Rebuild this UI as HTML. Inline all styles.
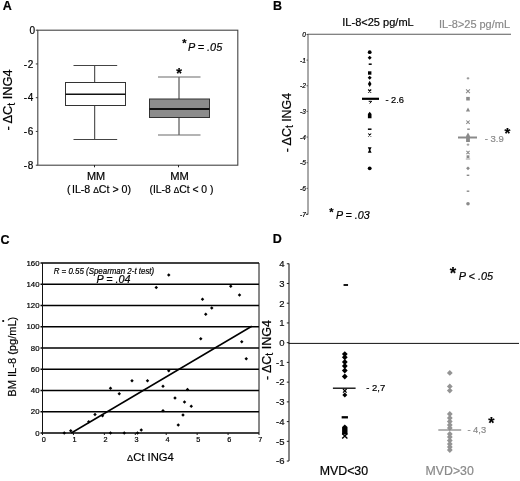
<!DOCTYPE html>
<html><head><meta charset="utf-8"><title>Figure</title>
<style>
html,body{margin:0;padding:0;background:#fff;}
svg{display:block;font-family:"Liberation Sans",sans-serif;}
text{stroke:#000;stroke-width:.2px}
text[fill="#8a8a8a"]{stroke:#8a8a8a}
</style></head><body>
<svg width="520" height="481" viewBox="0 0 520 481">
<rect width="520" height="481" fill="#fff"/>
<g id="pA">
<text x="2.8" y="9.9" font-size="12.5" font-weight="bold" stroke="#000" stroke-width="0.3">A</text>
<rect x="37.8" y="30.2" width="200" height="135" fill="none" stroke="#444" stroke-width="1.1"/>
<path d="M35.8 30.2H37.8" stroke="#333" stroke-width="1"/>
<text x="35" y="33.8" font-size="10" text-anchor="end">0</text>
<path d="M35.8 63.95H37.8" stroke="#333" stroke-width="1"/>
<text x="34.2" y="67.55" font-size="10" text-anchor="end" letter-spacing="0.8">-2</text>
<path d="M35.8 97.7H37.8" stroke="#333" stroke-width="1"/>
<text x="34.2" y="101.3" font-size="10" text-anchor="end" letter-spacing="0.8">-4</text>
<path d="M35.8 131.45H37.8" stroke="#333" stroke-width="1"/>
<text x="34.2" y="135.04999999999998" font-size="10" text-anchor="end" letter-spacing="0.8">-6</text>
<path d="M35.8 165.2H37.8" stroke="#333" stroke-width="1"/>
<text x="34.2" y="168.79999999999998" font-size="10" text-anchor="end" letter-spacing="0.8">-8</text>
<path d="M94.5 165V167.3M178.5 165V167.3" stroke="#222" stroke-width="1"/>
<path d="M94.7 65.5V82.5M94.7 105.5V139.5" stroke="#333" stroke-width="1" fill="none"/>
<path d="M73.5 65.5H117.2M73.5 139.5H117.2" stroke="#444" stroke-width="1" fill="none"/>
<rect x="65.5" y="82.5" width="60" height="23" fill="#fff" stroke="#333" stroke-width="1"/>
<path d="M65.5 94.3H125.5" stroke="#111" stroke-width="1.5"/>
<path d="M179 77V99M179 117.5V135" stroke="#333" stroke-width="1" fill="none"/>
<path d="M158 77H200.5M158 135H200.5" stroke="#6a6a6a" stroke-width="1.1" fill="none"/>
<rect x="149.5" y="99" width="60" height="18.5" fill="#8c8c8c" stroke="#333" stroke-width="1"/>
<path d="M149.5 109H209.5" stroke="#111" stroke-width="1.8"/>
<text x="179" y="77.6" font-size="14.5" text-anchor="middle" font-weight="bold">*</text>
<text x="184.4" y="46.9" font-size="11" text-anchor="middle" font-weight="bold">*</text>
<text x="187.9" y="50.6" font-size="11" font-style="italic" textLength="34.3" lengthAdjust="spacingAndGlyphs">P = .05</text>
<text x="87" y="179.8" font-size="10.8" textLength="18.2" lengthAdjust="spacingAndGlyphs">MM</text>
<text x="67.1" y="192.7" font-size="10.8" textLength="64" lengthAdjust="spacingAndGlyphs">(<tspan dx="1.3">IL-8</tspan> <tspan font-size="8.5">Δ</tspan>Ct &gt; 0)</text>
<text x="170.3" y="179.8" font-size="10.8" textLength="18.6" lengthAdjust="spacingAndGlyphs">MM</text>
<text x="149.5" y="192.7" font-size="10.8" textLength="64" lengthAdjust="spacingAndGlyphs">(IL-8 <tspan font-size="8.5">Δ</tspan>Ct &lt; 0 )</text>
<text transform="translate(12.4,130.5) rotate(-90)" font-size="12.3" textLength="61" lengthAdjust="spacingAndGlyphs">- ΔC<tspan font-size="10" dy="2.5">t</tspan><tspan dy="-2.5"> ING4</tspan></text>
</g>
<g id="pB">
<text x="273" y="9.7" font-size="12.5" font-weight="bold" stroke="#000" stroke-width="0.3">B</text>
<text x="342.3" y="26.4" font-size="11" textLength="71.4" lengthAdjust="spacingAndGlyphs">IL-8&lt;25 pg/mL</text>
<text x="439" y="27.9" font-size="11" fill="#8a8a8a" textLength="71" lengthAdjust="spacingAndGlyphs">IL-8&gt;25 pg/mL</text>
<path d="M307.5 34.2H511" stroke="#5a5a5a" stroke-width="1.1"/>
<path d="M308 34V214.5H306" stroke="#555" stroke-width="1" fill="none"/>
<path d="M306.5 34.50H308" stroke="#444" stroke-width="0.8"/>
<text x="305.8" y="37.20" font-size="6.5" text-anchor="end" fill="#000" font-style="italic" stroke-width="0.3">0</text>
<path d="M306.5 60.14H308" stroke="#444" stroke-width="0.8"/>
<text x="305.8" y="62.84" font-size="6.5" text-anchor="end" fill="#000" font-style="italic" stroke-width="0.3">-1</text>
<path d="M306.5 85.78H308" stroke="#444" stroke-width="0.8"/>
<text x="305.8" y="88.48" font-size="6.5" text-anchor="end" fill="#000" font-style="italic" stroke-width="0.3">-2</text>
<path d="M306.5 111.42H308" stroke="#444" stroke-width="0.8"/>
<text x="305.8" y="114.12" font-size="6.5" text-anchor="end" fill="#000" font-style="italic" stroke-width="0.3">-3</text>
<path d="M306.5 137.06H308" stroke="#444" stroke-width="0.8"/>
<text x="305.8" y="139.76" font-size="6.5" text-anchor="end" fill="#000" font-style="italic" stroke-width="0.3">-4</text>
<path d="M306.5 162.70H308" stroke="#444" stroke-width="0.8"/>
<text x="305.8" y="165.40" font-size="6.5" text-anchor="end" fill="#000" font-style="italic" stroke-width="0.3">-5</text>
<path d="M306.5 188.34H308" stroke="#444" stroke-width="0.8"/>
<text x="305.8" y="191.04" font-size="6.5" text-anchor="end" fill="#000" font-style="italic" stroke-width="0.3">-6</text>
<path d="M306.5 213.98H308" stroke="#444" stroke-width="0.8"/>
<text x="305.8" y="216.68" font-size="6.5" text-anchor="end" fill="#000" font-style="italic" stroke-width="0.3">-7</text>
<circle cx="369.70" cy="52.20" r="1.9" fill="#000"/>
<path d="M369.70 55.70L371.70 57.70L369.70 59.70L367.70 57.70Z" fill="#000"/>
<rect x="368.70" y="63.45" width="3" height="1.5" fill="#000"/>
<rect x="368.00" y="71.30" width="3.4" height="3.4" fill="#000"/>
<path d="M369.70 75.70L371.70 77.70L369.70 79.70L367.70 77.70Z" fill="#000"/>
<path d="M369.7 80.8L371.5 84L369.7 87L367.9 84Z" fill="#000"/>
<path d="M368.20 89.50L371.20 92.50M371.20 89.50L368.20 92.50" stroke="#000" stroke-width="1.15" fill="none"/>
<path d="M362 98.8H379" stroke="#000" stroke-width="2.2"/>
<path d="M368.7 101.3H371.7L369.7 103.5" stroke="#000" stroke-width="1" fill="none"/>
<path d="M369.7 111.8L371.5 114V118.3H367.9V114Z" fill="#000"/>
<rect x="367.90" y="128.45" width="3.6" height="1.5" fill="#000"/>
<path d="M368.20 133.50L371.20 136.50M371.20 133.50L368.20 136.50" stroke="#000" stroke-width="1.05" fill="none"/>
<path d="M367.8 147.2H371.59999999999997L370.3 150L371.59999999999997 152.8H367.8L369.09999999999997 150Z" fill="#000"/>
<circle cx="369.70" cy="168.30" r="1.9" fill="#000"/>
<text x="385.4" y="103.2" font-size="9.3" textLength="18.6" lengthAdjust="spacingAndGlyphs">- 2.6</text>
<path d="M466.70 78.30H469.30M468.00 77.00V79.60" stroke="#8a8a8a" stroke-width="0.9" fill="none"/>
<path d="M466.10 89.30L469.90 93.10M469.90 89.30L466.10 93.10" stroke="#8a8a8a" stroke-width="1.05" fill="none"/>
<rect x="466.20" y="96.90" width="3.6" height="3.6" fill="#8a8a8a"/>
<path d="M468.00 107.60L470.10 111.38L465.90 111.38Z" fill="#8a8a8a"/>
<path d="M466.30 120.50L469.70 123.90M469.70 120.50L466.30 123.90" stroke="#8a8a8a" stroke-width="1.05" fill="none"/>
<rect x="467.20" y="128.50" width="2.6" height="1.4" fill="#8a8a8a"/>
<path d="M458 137.5H477" stroke="#8a8a8a" stroke-width="2"/>
<path d="M468 132.5L469.9 136V142H466.1V136Z" fill="#8a8a8a"/>
<path d="M466.70 144.70H469.30M468.00 143.40V146.00" stroke="#8a8a8a" stroke-width="0.8" fill="none"/>
<path d="M466.40 150.90L469.60 154.10M469.60 150.90L466.40 154.10" stroke="#8a8a8a" stroke-width="1.05" fill="none"/>
<rect x="466.60" y="155.30" width="2.8" height="2.8" fill="#8a8a8a"/>
<path d="M465.8 159H470.2" stroke="#8a8a8a" stroke-width="0.8"/>
<path d="M468.00 166.40L469.90 168.30L468.00 170.20L466.10 168.30Z" fill="#8a8a8a"/>
<rect x="466.70" y="174.60" width="2.6" height="1.4" fill="#8a8a8a"/>
<rect x="466.70" y="190.50" width="2.6" height="1.4" fill="#8a8a8a"/>
<circle cx="468.00" cy="203.70" r="1.8" fill="#8a8a8a"/>
<text x="484.7" y="141.6" font-size="9.3" fill="#8a8a8a" textLength="19" lengthAdjust="spacingAndGlyphs">- 3.9</text>
<text x="507.5" y="137.6" font-size="15" text-anchor="middle" font-weight="bold">*</text>
<text x="331.5" y="215.8" font-size="11" text-anchor="middle" font-weight="bold">*</text>
<text x="335.9" y="219.2" font-size="11" font-style="italic" textLength="33.7" lengthAdjust="spacingAndGlyphs">P = .03</text>
<text transform="translate(290.6,152.3) rotate(-90)" font-size="12.5" textLength="59.5" lengthAdjust="spacingAndGlyphs">- ΔC<tspan font-size="10" dy="2.5">t</tspan><tspan dy="-2.5"> ING4</tspan></text>
</g>
<g id="pC">
<text x="0.6" y="243.8" font-size="12.5" font-weight="bold" stroke="#000" stroke-width="0.3">C</text>
<path d="M40.5 263.00H259" stroke="#000" stroke-width="1.5"/>
<text x="39.5" y="265.70" font-size="7.8" text-anchor="end" stroke-width="0.35">160</text>
<path d="M40.5 284.25H259" stroke="#000" stroke-width="1.3"/>
<text x="39.5" y="286.95" font-size="7.8" text-anchor="end" stroke-width="0.35">140</text>
<path d="M40.5 305.50H259" stroke="#000" stroke-width="1.3"/>
<text x="39.5" y="308.20" font-size="7.8" text-anchor="end" stroke-width="0.35">120</text>
<path d="M40.5 326.75H259" stroke="#000" stroke-width="1.3"/>
<text x="39.5" y="329.45" font-size="7.8" text-anchor="end" stroke-width="0.35">100</text>
<path d="M40.5 348.00H259" stroke="#000" stroke-width="1.3"/>
<text x="39.5" y="350.70" font-size="7.8" text-anchor="end" stroke-width="0.35">80</text>
<path d="M40.5 369.25H259" stroke="#000" stroke-width="1.3"/>
<text x="39.5" y="371.95" font-size="7.8" text-anchor="end" stroke-width="0.35">60</text>
<path d="M40.5 390.50H259" stroke="#000" stroke-width="1.3"/>
<text x="39.5" y="393.20" font-size="7.8" text-anchor="end" stroke-width="0.35">40</text>
<path d="M40.5 411.75H259" stroke="#000" stroke-width="1.3"/>
<text x="39.5" y="414.45" font-size="7.8" text-anchor="end" stroke-width="0.35">20</text>
<path d="M40.5 433.00H259" stroke="#000" stroke-width="1.3"/>
<text x="39.5" y="435.70" font-size="7.8" text-anchor="end" stroke-width="0.35">0</text>
<path d="M42.5 263V435M259 263V433" stroke="#111" stroke-width="1"/>
<path d="M42.50 433V435" stroke="#111" stroke-width="1"/>
<text x="43.70" y="442.4" font-size="7.3" text-anchor="middle" fill="#000" stroke-width="0.35">0</text>
<path d="M73.43 433V435" stroke="#111" stroke-width="1"/>
<text x="74.63" y="442.4" font-size="7.3" text-anchor="middle" fill="#000" stroke-width="0.35">1</text>
<path d="M104.36 433V435" stroke="#111" stroke-width="1"/>
<text x="105.56" y="442.4" font-size="7.3" text-anchor="middle" fill="#000" stroke-width="0.35">2</text>
<path d="M135.29 433V435" stroke="#111" stroke-width="1"/>
<text x="136.49" y="442.4" font-size="7.3" text-anchor="middle" fill="#000" stroke-width="0.35">3</text>
<path d="M166.22 433V435" stroke="#111" stroke-width="1"/>
<text x="167.42" y="442.4" font-size="7.3" text-anchor="middle" fill="#000" stroke-width="0.35">4</text>
<path d="M197.15 433V435" stroke="#111" stroke-width="1"/>
<text x="198.35" y="442.4" font-size="7.3" text-anchor="middle" fill="#000" stroke-width="0.35">5</text>
<path d="M228.08 433V435" stroke="#111" stroke-width="1"/>
<text x="229.28" y="442.4" font-size="7.3" text-anchor="middle" fill="#000" stroke-width="0.35">6</text>
<path d="M259.01 433V435" stroke="#111" stroke-width="1"/>
<text x="260.21" y="442.4" font-size="7.3" text-anchor="middle" fill="#000" stroke-width="0.35">7</text>
<path d="M168.75 273.25L170.50 275.00L168.75 276.75L167.00 275.00Z" fill="#000"/>
<path d="M156.25 285.75L158.00 287.50L156.25 289.25L154.50 287.50Z" fill="#000"/>
<path d="M230.75 284.50L232.50 286.25L230.75 288.00L229.00 286.25Z" fill="#000"/>
<path d="M239.50 293.25L241.25 295.00L239.50 296.75L237.75 295.00Z" fill="#000"/>
<path d="M202.50 297.50L204.25 299.25L202.50 301.00L200.75 299.25Z" fill="#000"/>
<path d="M211.75 306.25L213.50 308.00L211.75 309.75L210.00 308.00Z" fill="#000"/>
<path d="M205.75 312.50L207.50 314.25L205.75 316.00L204.00 314.25Z" fill="#000"/>
<path d="M200.75 337.00L202.50 338.75L200.75 340.50L199.00 338.75Z" fill="#000"/>
<path d="M241.75 340.00L243.50 341.75L241.75 343.50L240.00 341.75Z" fill="#000"/>
<path d="M246.25 357.00L248.00 358.75L246.25 360.50L244.50 358.75Z" fill="#000"/>
<path d="M168.75 369.00L170.50 370.75L168.75 372.50L167.00 370.75Z" fill="#000"/>
<path d="M132.00 379.00L133.75 380.75L132.00 382.50L130.25 380.75Z" fill="#000"/>
<path d="M147.50 379.00L149.25 380.75L147.50 382.50L145.75 380.75Z" fill="#000"/>
<path d="M163.00 384.50L164.75 386.25L163.00 388.00L161.25 386.25Z" fill="#000"/>
<path d="M187.50 387.75L189.25 389.50L187.50 391.25L185.75 389.50Z" fill="#000"/>
<path d="M175.00 396.25L176.75 398.00L175.00 399.75L173.25 398.00Z" fill="#000"/>
<path d="M184.50 400.25L186.25 402.00L184.50 403.75L182.75 402.00Z" fill="#000"/>
<path d="M191.25 404.50L193.00 406.25L191.25 408.00L189.50 406.25Z" fill="#000"/>
<path d="M163.00 409.00L164.75 410.75L163.00 412.50L161.25 410.75Z" fill="#000"/>
<path d="M183.00 413.25L184.75 415.00L183.00 416.75L181.25 415.00Z" fill="#000"/>
<path d="M178.25 423.25L180.00 425.00L178.25 426.75L176.50 425.00Z" fill="#000"/>
<path d="M141.25 428.25L143.00 430.00L141.25 431.75L139.50 430.00Z" fill="#000"/>
<path d="M137.50 431.25L139.25 433.00L137.50 434.75L135.75 433.00Z" fill="#000"/>
<path d="M110.50 386.50L112.25 388.25L110.50 390.00L108.75 388.25Z" fill="#000"/>
<path d="M119.25 392.00L121.00 393.75L119.25 395.50L117.50 393.75Z" fill="#000"/>
<path d="M95.00 412.75L96.75 414.50L95.00 416.25L93.25 414.50Z" fill="#000"/>
<path d="M102.50 414.00L104.25 415.75L102.50 417.50L100.75 415.75Z" fill="#000"/>
<path d="M88.75 420.00L90.50 421.75L88.75 423.50L87.00 421.75Z" fill="#000"/>
<path d="M70.75 429.00L72.50 430.75L70.75 432.50L69.00 430.75Z" fill="#000"/>
<path d="M64.25 431.25L66.00 433.00L64.25 434.75L62.50 433.00Z" fill="#000"/>
<path d="M110.50 431.25L112.25 433.00L110.50 434.75L108.75 433.00Z" fill="#000"/>
<path d="M124.25 431.25L126.00 433.00L124.25 434.75L122.50 433.00Z" fill="#000"/>
<path d="M71.3 433L251.75 326.25" stroke="#000" stroke-width="1.5"/>
<text x="53.7" y="273.6" font-size="8.2" font-style="italic" textLength="100.5" lengthAdjust="spacingAndGlyphs">R = 0.55 (Spearman 2-t test)</text>
<text x="96.5" y="283.2" font-size="10.8" font-style="italic" textLength="34" lengthAdjust="spacingAndGlyphs">P = .04</text>
<text transform="translate(15.6,396.7) rotate(-90)" font-size="11.3" textLength="80" lengthAdjust="spacingAndGlyphs">BM IL-8 (pg/mL)</text>
<circle cx="3.2" cy="321" r="1.1" fill="#000"/>
<text x="127.1" y="461.3" font-size="11.8" textLength="46.7" lengthAdjust="spacingAndGlyphs"><tspan font-size="9.5">Δ</tspan>Ct ING4</text>
</g>
<g id="pD">
<text x="272.8" y="242.8" font-size="12.5" font-weight="bold" stroke="#000" stroke-width="0.3">D</text>
<path d="M289 263.5V461" stroke="#222" stroke-width="1.1"/>
<path d="M288.5 343.4H519" stroke="#111" stroke-width="1"/>
<path d="M286.8 263.75H289" stroke="#222" stroke-width="1"/>
<text x="284.5" y="267.05" font-size="9.5" text-anchor="end" fill="#111">4</text>
<path d="M286.8 283.48H289" stroke="#222" stroke-width="1"/>
<text x="284.5" y="286.78" font-size="9.5" text-anchor="end" fill="#111">3</text>
<path d="M286.8 303.21H289" stroke="#222" stroke-width="1"/>
<text x="284.5" y="306.51" font-size="9.5" text-anchor="end" fill="#111">2</text>
<path d="M286.8 322.94H289" stroke="#222" stroke-width="1"/>
<text x="284.5" y="326.24" font-size="9.5" text-anchor="end" fill="#111">1</text>
<path d="M286.8 342.67H289" stroke="#222" stroke-width="1"/>
<text x="284.5" y="345.97" font-size="9.5" text-anchor="end" fill="#111">0</text>
<path d="M286.8 362.40H289" stroke="#222" stroke-width="1"/>
<text x="284.5" y="365.70" font-size="9.5" text-anchor="end" fill="#111">-1</text>
<path d="M286.8 382.13H289" stroke="#222" stroke-width="1"/>
<text x="284.5" y="385.43" font-size="9.5" text-anchor="end" fill="#111">-2</text>
<path d="M286.8 401.86H289" stroke="#222" stroke-width="1"/>
<text x="284.5" y="405.16" font-size="9.5" text-anchor="end" fill="#111">-3</text>
<path d="M286.8 421.59H289" stroke="#222" stroke-width="1"/>
<text x="284.5" y="424.89" font-size="9.5" text-anchor="end" fill="#111">-4</text>
<path d="M286.8 441.32H289" stroke="#222" stroke-width="1"/>
<text x="284.5" y="444.62" font-size="9.5" text-anchor="end" fill="#111">-5</text>
<path d="M286.8 461.05H289" stroke="#222" stroke-width="1"/>
<text x="284.5" y="464.35" font-size="9.5" text-anchor="end" fill="#111">-6</text>
<rect x="343.55" y="284.10" width="4.5" height="1.8" fill="#000"/>
<path d="M344.80 351.20L347.70 354.10L344.80 357.00L341.90 354.10Z" fill="#000"/>
<path d="M344.80 354.40L347.70 357.30L344.80 360.20L341.90 357.30Z" fill="#000"/>
<path d="M344.80 359.10L347.70 362.00L344.80 364.90L341.90 362.00Z" fill="#000"/>
<path d="M344.80 363.10L347.70 366.00L344.80 368.90L341.90 366.00Z" fill="#000"/>
<path d="M344.80 367.60L347.70 370.50L344.80 373.40L341.90 370.50Z" fill="#000"/>
<path d="M344.80 373.60L347.70 376.50L344.80 379.40L341.90 376.50Z" fill="#000"/>
<path d="M332.9 388.2H355.6" stroke="#000" stroke-width="1.3"/>
<path d="M343.00 389.00L346.60 392.60M346.60 389.00L343.00 392.60" stroke="#000" stroke-width="1.25" fill="none"/>
<path d="M344.80 392.40L347.30 394.90L344.80 397.40L342.30 394.90Z" fill="#000"/>
<rect x="341.65" y="416.15" width="6.3" height="2.3" fill="#000"/>
<path d="M344.8 424.4L347.5 427V434.4H342.1V427Z" fill="#000"/>
<path d="M342.20 433.40L347.40 438.60M347.40 433.40L342.20 438.60" stroke="#000" stroke-width="1.35" fill="none"/>
<text x="366.2" y="391.3" font-size="9.5" textLength="19" lengthAdjust="spacingAndGlyphs">- 2,7</text>
<text x="319.7" y="475.2" font-size="12.3" textLength="48.4" lengthAdjust="spacingAndGlyphs">MVD&lt;30</text>
<path d="M449.80 370.00L452.70 372.90L449.80 375.80L446.90 372.90Z" fill="#949494"/>
<path d="M449.80 383.50L452.70 386.40L449.80 389.30L446.90 386.40Z" fill="#949494"/>
<path d="M449.80 387.70L452.70 390.60L449.80 393.50L446.90 390.60Z" fill="#949494"/>
<path d="M449.80 411.10L452.70 414.00L449.80 416.90L446.90 414.00Z" fill="#949494"/>
<path d="M449.80 415.10L452.70 418.00L449.80 420.90L446.90 418.00Z" fill="#949494"/>
<path d="M449.80 418.60L452.70 421.50L449.80 424.40L446.90 421.50Z" fill="#949494"/>
<path d="M449.80 422.10L452.70 425.00L449.80 427.90L446.90 425.00Z" fill="#949494"/>
<path d="M449.80 425.10L452.70 428.00L449.80 430.90L446.90 428.00Z" fill="#949494"/>
<path d="M449.80 431.10L452.70 434.00L449.80 436.90L446.90 434.00Z" fill="#949494"/>
<path d="M449.80 434.10L452.70 437.00L449.80 439.90L446.90 437.00Z" fill="#949494"/>
<path d="M449.80 437.60L452.70 440.50L449.80 443.40L446.90 440.50Z" fill="#949494"/>
<path d="M449.80 441.10L452.70 444.00L449.80 446.90L446.90 444.00Z" fill="#949494"/>
<path d="M449.80 444.10L452.70 447.00L449.80 449.90L446.90 447.00Z" fill="#949494"/>
<path d="M449.80 447.10L452.70 450.00L449.80 452.90L446.90 450.00Z" fill="#949494"/>
<path d="M438.3 430H461.2" stroke="#8a8a8a" stroke-width="1.3"/>
<text x="467.4" y="432.8" font-size="9.5" fill="#8a8a8a" textLength="18.7" lengthAdjust="spacingAndGlyphs">- 4,3</text>
<text x="491.3" y="429.1" font-size="16" text-anchor="middle" font-weight="bold">*</text>
<text x="425.5" y="475.2" font-size="12.3" fill="#8a8a8a" textLength="48.3" lengthAdjust="spacingAndGlyphs">MVD&gt;30</text>
<text x="453" y="278.9" font-size="16.5" text-anchor="middle" font-weight="bold">*</text>
<text x="458.7" y="279.5" font-size="10.5" font-style="italic" textLength="34.3" lengthAdjust="spacingAndGlyphs">P &lt; .05</text>
<text transform="translate(270.5,380) rotate(-90)" font-size="12" textLength="60" lengthAdjust="spacingAndGlyphs">- ΔC<tspan font-size="10" dy="2.5">t</tspan><tspan dy="-2.5"> ING4</tspan></text>
</g>
</svg>
</body></html>
